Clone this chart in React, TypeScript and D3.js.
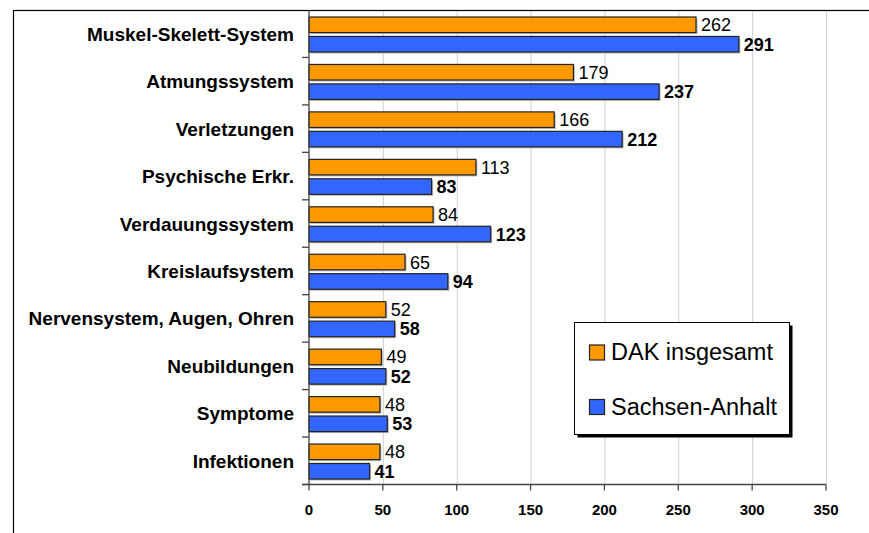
import React, { useEffect, useRef } from 'react';
import * as d3 from 'd3';

const categories = [
  'Muskel-Skelett-System',
  'Atmungssystem',
  'Verletzungen',
  'Psychische Erkr.',
  'Verdauungssystem',
  'Kreislaufsystem',
  'Nervensystem, Augen, Ohren',
  'Neubildungen',
  'Symptome',
  'Infektionen',
];
const dakValues = [262, 179, 166, 113, 84, 65, 52, 49, 48, 48];
const saValues = [291, 237, 212, 83, 123, 94, 58, 52, 53, 41];
const xTicks = [0, 50, 100, 150, 200, 250, 300, 350];
const seriesNames = ['DAK insgesamt', 'Sachsen-Anhalt'];
const seriesColors = ['#FF9900', '#3366FF'];

const FONT = '"Liberation Sans", Arial, sans-serif';

const App: React.FC = () => {
  const ref = useRef<SVGSVGElement>(null);

  useEffect(() => {
    if (!ref.current) return;
    const svg = d3.select(ref.current);
    svg.selectAll('*').remove();

    const width = 869;
    const height = 533;
    const plot = { left: 309, right: 826, top: 10, bottom: 484.5 };

    // outer frame (runs off the picture on right and bottom)
    svg
      .append('rect')
      .attr('x', 13.5)
      .attr('y', 10.5)
      .attr('width', 1000)
      .attr('height', 1000)
      .attr('fill', '#fff')
      .attr('stroke', '#000')
      .attr('stroke-width', 1.2);

    const x = d3.scaleLinear().domain([0, 350]).range([plot.left, plot.right]);
    const y = d3.scaleBand().domain(categories).range([plot.top, plot.bottom]).padding(0);
    const sub = d3.scaleBand().domain(['dak', 'sa']).range([7, 42]).paddingInner(0.2);

    // gridlines
    svg
      .append('g')
      .selectAll('line')
      .data(xTicks.filter((t) => t > 0))
      .enter()
      .append('line')
      .attr('x1', (d) => x(d) + 0.5)
      .attr('x2', (d) => x(d) + 0.5)
      .attr('y1', plot.top + 1)
      .attr('y2', plot.bottom)
      .attr('stroke', '#cfcfcf')
      .attr('stroke-width', 1);

    const rows = categories.map((c, i) => ({ c, dak: dakValues[i], sa: saValues[i] }));

    const series = [
      { key: 'dak', get: (d: any) => d.dak, color: seriesColors[0], bold: false },
      { key: 'sa', get: (d: any) => d.sa, color: seriesColors[1], bold: true },
    ];

    series.forEach((s) => {
      const g = svg.append('g');
      // soft shadow
      g.selectAll('.shadow')
        .data(rows)
        .enter()
        .append('rect')
        .attr('x', x(0) + 1.5)
        .attr('y', (d) => y(d.c)! + sub(s.key)! + 1.5)
        .attr('width', (d) => x(s.get(d)) - x(0))
        .attr('height', sub.bandwidth())
        .attr('fill', '#b8b8b8');
      g.selectAll('.bar')
        .data(rows)
        .enter()
        .append('rect')
        .attr('x', x(0))
        .attr('y', (d) => y(d.c)! + sub(s.key)!)
        .attr('width', (d) => x(s.get(d)) - x(0))
        .attr('height', sub.bandwidth())
        .attr('fill', s.color)
        .attr('stroke', '#222')
        .attr('stroke-width', 1.2);
      g.selectAll('.lbl')
        .data(rows)
        .enter()
        .append('text')
        .attr('x', (d) => x(s.get(d)) + 5)
        .attr('y', (d) => y(d.c)! + sub(s.key)! + sub.bandwidth() / 2 + 6.5)
        .attr('font-family', FONT)
        .attr('font-size', 18)
        .attr('font-weight', s.bold ? 'bold' : 'normal')
        .attr('fill', '#000')
        .text((d) => s.get(d));
    });

    // y axis
    const yAxis = svg.append('g');
    yAxis
      .append('line')
      .attr('x1', plot.left)
      .attr('x2', plot.left)
      .attr('y1', plot.top)
      .attr('y2', plot.bottom)
      .attr('stroke', '#444')
      .attr('stroke-width', 1.3);
    yAxis
      .selectAll('.tick')
      .data(categories.map((c) => y(c)!).concat([plot.bottom]).slice(1))
      .enter()
      .append('line')
      .attr('x1', plot.left - 7)
      .attr('x2', plot.left)
      .attr('y1', (d) => d)
      .attr('y2', (d) => d)
      .attr('stroke', '#444')
      .attr('stroke-width', 1.3);
    yAxis
      .selectAll('.cat')
      .data(categories)
      .enter()
      .append('text')
      .attr('x', 294)
      .attr('y', (d) => y(d)! + y.bandwidth() / 2 + 7)
      .attr('text-anchor', 'end')
      .attr('font-family', FONT)
      .attr('font-size', 19)
      .attr('font-weight', 'bold')
      .attr('fill', '#000')
      .text((d) => d);

    // x axis
    const xAxis = svg.append('g');
    xAxis
      .append('line')
      .attr('x1', plot.left - 7)
      .attr('x2', plot.right)
      .attr('y1', plot.bottom)
      .attr('y2', plot.bottom)
      .attr('stroke', '#444')
      .attr('stroke-width', 1.3);
    xAxis
      .selectAll('.tick')
      .data(xTicks)
      .enter()
      .append('line')
      .attr('x1', (d) => x(d))
      .attr('x2', (d) => x(d))
      .attr('y1', plot.bottom)
      .attr('y2', plot.bottom + 6)
      .attr('stroke', '#444')
      .attr('stroke-width', 1.3);
    xAxis
      .selectAll('.tl')
      .data(xTicks)
      .enter()
      .append('text')
      .attr('x', (d) => x(d))
      .attr('y', 515)
      .attr('text-anchor', 'middle')
      .attr('font-family', FONT)
      .attr('font-size', 15)
      .attr('font-weight', 'bold')
      .attr('fill', '#000')
      .text((d) => d);

    // legend
    const lg = svg.append('g');
    lg.append('rect')
      .attr('x', 577.5)
      .attr('y', 325.5)
      .attr('width', 215)
      .attr('height', 112)
      .attr('fill', '#000');
    lg.append('rect')
      .attr('x', 574.5)
      .attr('y', 322.5)
      .attr('width', 215)
      .attr('height', 112)
      .attr('fill', '#fff')
      .attr('stroke', '#000')
      .attr('stroke-width', 1);
    seriesNames.forEach((name, i) => {
      const cy = 352.5 + i * 54.5;
      lg.append('rect')
        .attr('x', 589.5)
        .attr('y', cy - 7.5)
        .attr('width', 15)
        .attr('height', 15)
        .attr('fill', seriesColors[i])
        .attr('stroke', '#222')
        .attr('stroke-width', 1.2);
      lg.append('text')
        .attr('x', 611)
        .attr('y', cy + 7.5)
        .attr('font-family', FONT)
        .attr('font-size', 23.5)
        .attr('fill', '#000')
        .text(name);
    });

    svg.attr('width', width).attr('height', height);
  }, []);

  return (
    <div style={{ position: 'fixed', left: 0, top: 0, background: '#fff' }}>
      <svg ref={ref} width={869} height={533} style={{ display: 'block' }} />
    </div>
  );
};

export default App;
